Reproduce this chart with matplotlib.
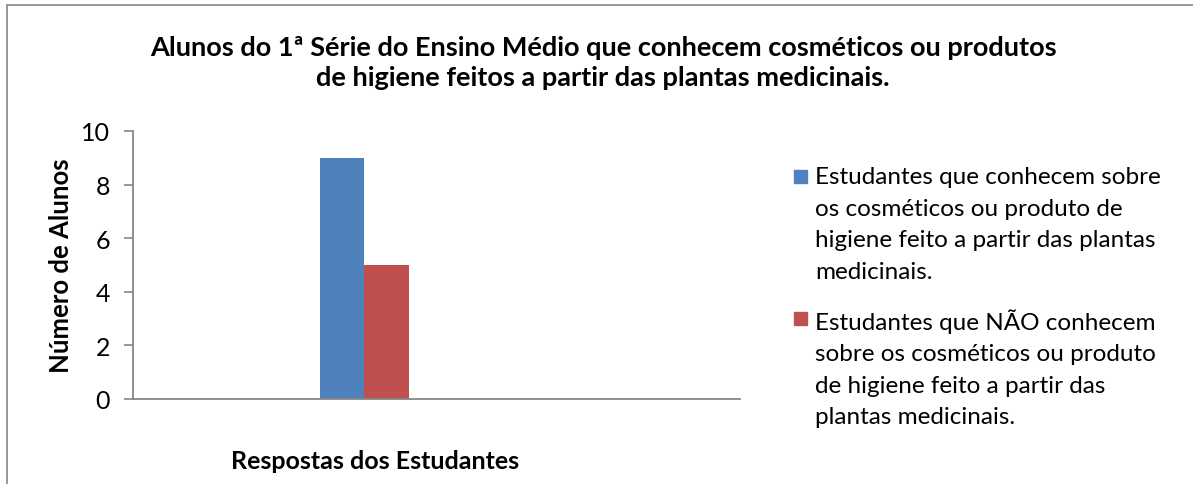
import matplotlib.pyplot as plt
from matplotlib.patches import Rectangle

# dados do grafico
categorias = ['']
series = [
    'Estudantes que conhecem sobre\nos cosméticos ou produto de\nhigiene feito a partir das plantas\nmedicinais.',
    'Estudantes que NÃO conhecem\nsobre os cosméticos ou produto\nde higiene feito a partir das\nplantas medicinais.',
]
valores = [9, 5]
cores = ['#4f81bd', '#c0504d']
y_ticks = [0, 2, 4, 6, 8, 10]

plt.rcParams['font.family'] = ['Lato', 'DejaVu Sans']

W, H = 1193, 485
fig = plt.figure(figsize=(W / 100, H / 100), dpi=100)
ax = fig.add_axes([133 / W, 1 - 400 / H, (740 - 133) / W, (400 - 132) / H])

largura = 0.4
for i, (nome, v, c) in enumerate(zip(series, valores, cores)):
    ax.bar(-largura / 2 + i * largura, v, width=largura, color=c, label=nome)

ax.set_xlim(-2.08, 3.375)
ax.set_ylim(0, 10)
ax.set_yticks(y_ticks)
ax.set_xticks([])
ax.tick_params(axis='y', length=6.5, width=1.2, color='#868686', labelsize=18, pad=10)
for s in ['top', 'right']:
    ax.spines[s].set_visible(False)
for s in ['left', 'bottom']:
    ax.spines[s].set_color('#868686')
    ax.spines[s].set_linewidth(1.3)

ax.set_ylabel('Número de Alunos', fontsize=18.5, fontweight='bold')
ax.yaxis.set_label_coords((73 - 133) / 607, 0.5)
fig.text(375 / W, 1 - 462 / H, 'Respostas dos Estudantes', ha='center', va='center',
         fontsize=18, fontweight='bold')

fig.text(603 / W, 1 - 63 / H,
         'Alunos do 1ª Série do Ensino Médio que conhecem cosméticos ou produtos\nde higiene feitos a partir das plantas medicinais.',
         ha='center', va='center', fontsize=19.5, fontweight='bold', linespacing=1.32)

# legenda feita a mao para alinhar o quadrado com a primeira linha
topo = [167, 309]
for nome, c, y in zip(series, cores, topo):
    fig.add_artist(Rectangle((794 / W, 1 - (y + 17) / H), 13 / W, 13 / H,
                             transform=fig.transFigure, color=c))
    fig.text(815 / W, 1 - y / H, nome, ha='left', va='top', fontsize=17.5, linespacing=1.62)

fig.patches.append(Rectangle((7 / W, -0.01), 1.2, 1 - 6 / H + 0.01, transform=fig.transFigure,
                             fill=False, edgecolor='#868686', linewidth=1.2))

fig.savefig('out.png', dpi=100)
